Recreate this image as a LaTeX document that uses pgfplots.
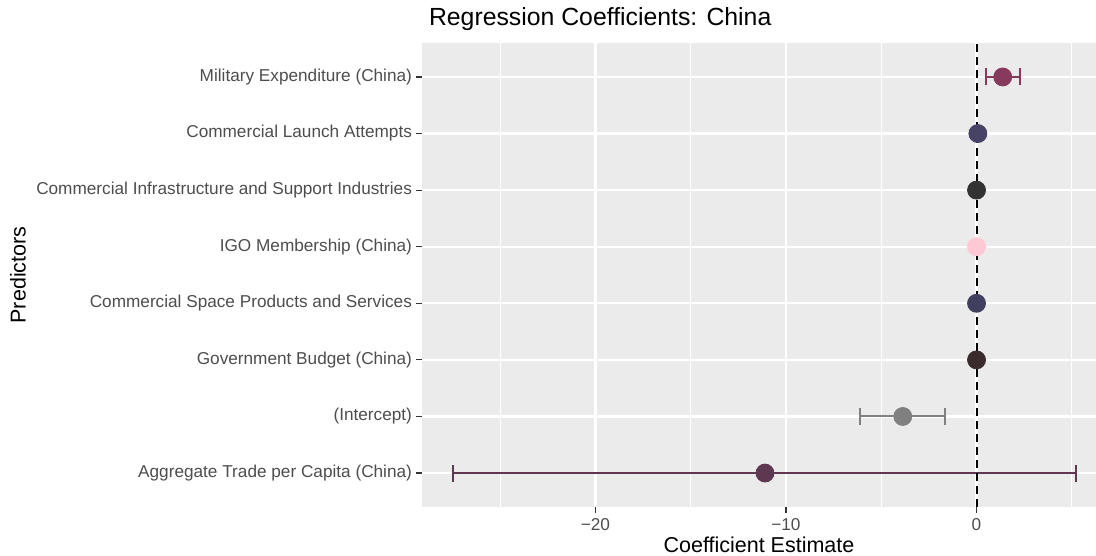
\documentclass[border=0pt]{standalone}
\usepackage{pgfplots}
\pgfplotsset{compat=1.18}
\usepackage{fontspec}
\setmainfont{Liberation Sans}
\definecolor{panel}{HTML}{EBEBEB}
\definecolor{tickc}{HTML}{333333}
\definecolor{labc}{HTML}{4D4D4D}
\definecolor{cMil}{RGB}{136,57,94}
\definecolor{cLaunch}{RGB}{70,67,102}
\definecolor{cInfra}{RGB}{51,51,51}
\definecolor{cIGO}{RGB}{255,200,212}
\definecolor{cProd}{RGB}{65,63,95}
\definecolor{cGov}{RGB}{58,44,44}
\definecolor{cInt}{RGB}{128,128,128}
\definecolor{cAgg}{RGB}{94,55,80}
\begin{document}
\begin{tikzpicture}
\useasboundingbox (0,0) rectangle (548bp,278bp);
\begin{axis}[
  at={(211bp,24.5bp)}, anchor=south west,
  width=337bp, height=232bp, scale only axis=true,
  xmin=-29.1, xmax=6.27, ymin=0.4, ymax=8.6,
  axis background/.style={fill=panel},
  axis line style={draw=none},
  tick pos=left, tick align=outside,
  major tick length=3bp, minor tick length=0pt,
  every tick/.style={tickc, line width=0.55bp},
  xtick={-20,-10,0}, xticklabels={−20,−10,0},
  minor xtick={-25,-15,-5,5},
  ytick={1,2,3,4,5,6,7,8},
  yticklabels={Aggregate Trade per Capita (China),(Intercept),Government Budget (China),Commercial Space Products and Services,IGO Membership (China),Commercial Infrastructure and Support Industries,Commercial Launch Attempts,Military Expenditure (China)},
  tick label style={font=\fontsize{8.6bp}{10bp}\selectfont, text=labc},
  yticklabel style={xshift=1.5bp},
  xticklabel style={yshift=0.8bp},
  /pgf/number format/assume math mode=true,
  grid=both,
  major grid style={white, line width=1.1bp},
  minor grid style={white, line width=0.55bp},
  xlabel={Coefficient Estimate}, ylabel={Predictors},
  label style={font=\fontsize{10.75bp}{12bp}\selectfont, text=black},
  xlabel style={at={(axis description cs:0.5,-0.0819)}, anchor=center},
  ylabel style={at={(axis description cs:-0.5994,0.5)}, anchor=center},
  title={Regression Coefficients: China},
  title style={at={(axis description cs:0,1)}, anchor=base west, yshift=3bp, font=\fontsize{12.4bp}{14bp}\selectfont},
  clip=false,
  error bars/x dir=both, error bars/x explicit,
  error bars/error mark=|,
  error bars/error bar style={line width=1bp},
  error bars/error mark options={mark size=4.25bp, line width=1bp},
]
\addplot[color=cMil, only marks, mark=*, mark size=4.5bp, mark options={draw=none, fill=cMil}]
  coordinates {(1.375,8) += (0.88,0) -= (0.875,0)};
\addplot[color=cLaunch, only marks, mark=*, mark size=4.5bp, mark options={draw=none, fill=cLaunch}, error bars/x dir=none]
  coordinates {(0.07,7)};
\addplot[color=cInfra, only marks, mark=*, mark size=4.5bp, mark options={draw=none, fill=cInfra}, error bars/x dir=none]
  coordinates {(0.0,6)};
\addplot[color=cIGO, only marks, mark=*, mark size=4.5bp, mark options={draw=none, fill=cIGO}, error bars/x dir=none]
  coordinates {(0.0,5)};
\addplot[color=cProd, only marks, mark=*, mark size=4.5bp, mark options={draw=none, fill=cProd}, error bars/x dir=none]
  coordinates {(0.0,4)};
\addplot[color=cGov, only marks, mark=*, mark size=4.5bp, mark options={draw=none, fill=cGov}, error bars/x dir=none]
  coordinates {(0.0,3)};
\addplot[color=cInt, only marks, mark=*, mark size=4.5bp, mark options={draw=none, fill=cInt}]
  coordinates {(-3.87,2) += (2.23,0) -= (2.22,0)};
\addplot[color=cAgg, only marks, mark=*, mark size=4.5bp, mark options={draw=none, fill=cAgg}]
  coordinates {(-11.1,1) += (16.34,0) -= (16.36,0)};
\addplot[black, line width=1bp, dash pattern=on 4bp off 2.5bp, no marks, forget plot]
  coordinates {(0,0.4) (0,8.6)};
\end{axis}
\end{tikzpicture}
\end{document}
